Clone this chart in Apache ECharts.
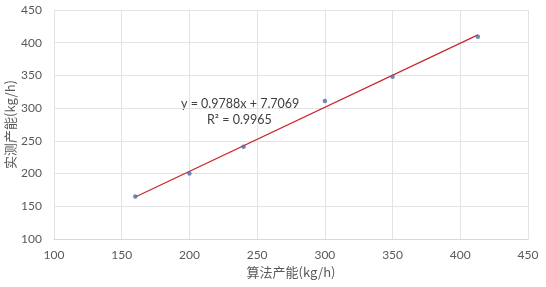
<!DOCTYPE html>
<html><head><meta charset="utf-8">
<script src="https://cdn.jsdelivr.net/npm/echarts@6/dist/echarts.min.js"></script>
<style>html,body{margin:0;padding:0;background:#fff}#c{width:546px;height:287px}</style>
</head><body><div id="c"></div>
<script>
const xValues = [160, 200, 240, 300, 350, 413];
const yValues = [165, 200, 241, 311, 348, 409];
const slope = 0.9788, intercept = 7.7069;
const trendX = [160, 413];
const xAxisName = '算法产能(kg/h)';
const yAxisName = '实测产能(kg/h)';
const eqText = 'y = 0.9788x + 7.7069';
const r2Text = 'R² = 0.9965';

const pts = xValues.map((x, i) => [x, yValues[i]]);
const trend = trendX.map(x => [x, slope * x + intercept]);
const chart = echarts.init(document.getElementById('c'));
const labelFont = 'Lato, "Open Sans", sans-serif';
chart.setOption({
  animation: false,
  grid: {left: 54, right: 18, top: 10, bottom: 48, containLabel: false, outerBoundsMode: 'none'},
  xAxis: {
    type: 'value', min: 100, max: 450, interval: 50,
    name: xAxisName, nameLocation: 'middle', nameGap: 27, nameMoveOverlap: false,
    nameTextStyle: {color: '#595959', fontSize: 13, fontFamily: '"Noto Sans CJK SC"'},
    axisLine: {show: true, lineStyle: {color: '#d9d9d9'}},
    axisTick: {show: false},
    axisLabel: {color: '#595959', fontSize: 12, fontFamily: labelFont, margin: 10},
    splitLine: {show: true, lineStyle: {color: '#e3e3e3'}}
  },
  yAxis: {
    type: 'value', min: 100, max: 450, interval: 50,
    name: yAxisName, nameLocation: 'middle', nameGap: 37, nameMoveOverlap: false,
    nameTextStyle: {color: '#595959', fontSize: 13, fontFamily: '"Noto Sans CJK SC"'},
    axisLine: {show: true, lineStyle: {color: '#e3e3e3'}},
    axisTick: {show: false},
    axisLabel: {color: '#595959', fontSize: 12, fontFamily: labelFont, margin: 12},
    splitLine: {show: true, lineStyle: {color: '#e3e3e3'}}
  },
  series: [
    {type: 'line', data: trend, symbol: 'none', lineStyle: {color: '#C8262B', width: 1.2}, z: 2},
    {type: 'scatter', data: pts, symbolSize: 4.5, itemStyle: {color: '#4A6FA8'}, z: 3}
  ],
  graphic: [
    {type: 'text', left: 181, top: 97, style: {text: eqText, fill: '#404040', font: '12.5px ' + labelFont}},
    {type: 'text', left: 207, top: 113, style: {text: r2Text, fill: '#404040', font: '12.5px ' + labelFont}}
  ]
});
</script></body></html>
